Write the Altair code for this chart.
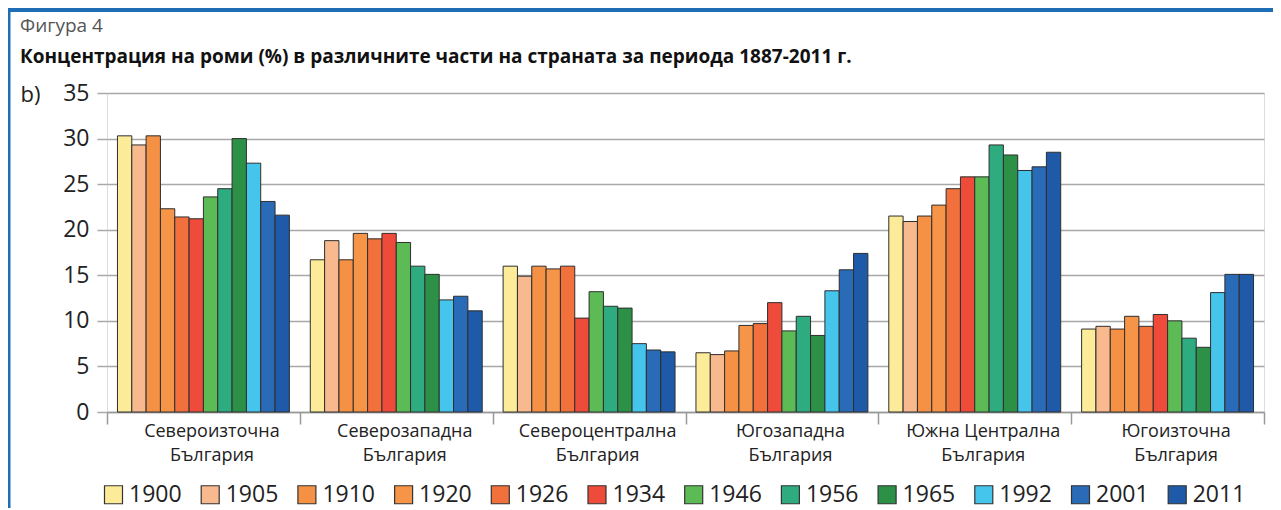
import altair as alt
import pandas as pd

years = ["1900", "1905", "1910", "1920", "1926", "1934", "1946", "1956", "1965", "1992", "2001", "2011"]
regions = [
    "Североизточна|България",
    "Северозападна|България",
    "Североцентрална|България",
    "Югозападна|България",
    "Южна Централна|България",
    "Югоизточна|България",
]
colors = ["#FCEC9A", "#F9B98F", "#F59145", "#F69447", "#F1703B", "#EE4B3B",
          "#5DBB56", "#2EAC80", "#2C9146", "#46C5EC", "#2A6BB7", "#1F5AA8"]

northeast = [30.3, 29.3, 30.3, 22.3, 21.4, 21.2, 23.6, 24.5, 30.0, 27.3, 23.1, 21.6]
northwest = [16.7, 18.8, 16.7, 19.6, 19.0, 19.6, 18.6, 16.0, 15.1, 12.3, 12.7, 11.1]
northcentral = [16.0, 14.9, 16.0, 15.7, 16.0, 10.3, 13.2, 11.6, 11.4, 7.5, 6.8, 6.6]
southwest = [6.5, 6.3, 6.7, 9.5, 9.7, 12.0, 8.9, 10.5, 8.4, 13.3, 15.6, 17.4]
southcentral = [21.5, 20.9, 21.5, 22.7, 24.5, 25.8, 25.8, 29.3, 28.2, 26.5, 26.9, 28.5]
southeast = [9.1, 9.4, 9.1, 10.5, 9.4, 10.7, 10.0, 8.1, 7.1, 13.1, 15.1, 15.1]

figure_label = "Фигура 4"
title_text = "Концентрация на роми (%) в различните части на страната за периода 1887-2011 г."

series = [northeast, northwest, northcentral, southwest, southcentral, southeast]
rows = []
for reg, vals in zip(regions, series):
    for yr, v in zip(years, vals):
        rows.append({"region": reg, "year": yr, "value": v})
df = pd.DataFrame(rows)

FONT = "Open Sans"

bars = alt.Chart(df).mark_bar(stroke="#2e2e2e", strokeWidth=1).encode(
    x=alt.X("region:N", sort=regions,
            scale=alt.Scale(paddingInner=0, paddingOuter=0),
            axis=alt.Axis(title=None, labelAngle=0, tickBand="extent", tickSize=12,
                          tickColor="#999", tickWidth=1.5, domainColor="#999", domainWidth=1.5,
                          labelExpr="split(datum.label, '|')", labelFontSize=18,
                          labelLineHeight=24, labelPadding=-2, labelBaseline="top",
                          labelOffset=8, grid=False, labelColor="#222", labelFont=FONT)),
    xOffset=alt.XOffset("year:N", sort=years,
                        scale=alt.Scale(paddingInner=0, paddingOuter=0.73)),
    y=alt.Y("value:Q", scale=alt.Scale(domain=[0, 35], nice=False),
            axis=alt.Axis(values=[0, 5, 10, 15, 20, 25, 30, 35], grid=True,
                          gridColor="#a8a8a8", gridWidth=1.5, tickColor="#a8a8a8",
                          tickSize=10, tickWidth=1.5, domain=False, labelFontSize=23,
                          labelPadding=8, labelColor="#222", labelFont=FONT,
                          title="b)", titleAngle=0, titleAlign="left",
                          titleBaseline="middle", titleX=-87, titleY=1,
                          titleFontSize=22, titleFontWeight="normal",
                          titleColor="#222", titleFont=FONT)),
    color=alt.Color("year:N", sort=years,
                    scale=alt.Scale(domain=years, range=colors),
                    legend=alt.Legend(orient="none", legendX=-5, legendY=390,
                                      direction="horizontal", columns=12, title=None,
                                      symbolType="square", symbolSize=324,
                                      symbolStrokeColor="#333", symbolStrokeWidth=1.2,
                                      symbolOpacity=1, labelFontSize=23, labelOffset=4,
                                      columnPadding=16.7, labelColor="#222",
                                      labelFont=FONT)),
)

text_df = pd.DataFrame({"fig": [figure_label], "title": [title_text]})
fig_text = alt.Chart(text_df).mark_text(
    align="left", baseline="alphabetic", font=FONT, fontSize=19, color="#555"
).encode(x=alt.value(-87), y=alt.value(-61), text="fig:N")
title_mark = alt.Chart(text_df).mark_text(
    align="left", baseline="alphabetic", font=FONT, fontSize=19, fontWeight="bold", color="#111"
).encode(x=alt.value(-87), y=alt.value(-30), text="title:N")

frame_df = pd.DataFrame({"k": [0]})
top_line = alt.Chart(frame_df).mark_rect(color="#1f6db5").encode(
    x=alt.value(-99), x2=alt.value(1170), y=alt.value(-85), y2=alt.value(-81))
left_line = alt.Chart(frame_df).mark_rect(color="#1f6db5").encode(
    x=alt.value(-99), x2=alt.value(-96.5), y=alt.value(-85), y2=alt.value(420))

chart = alt.layer(bars, fig_text, title_mark, top_line, left_line).properties(
    width=1157, height=319,
    autosize="none",
    padding={"left": 99, "top": 85, "right": 9, "bottom": 96},
).configure_view(stroke="#999", strokeWidth=1.5).configure(background="white")

chart.save("out.html", embed_options={"renderer": "svg", "actions": False})
